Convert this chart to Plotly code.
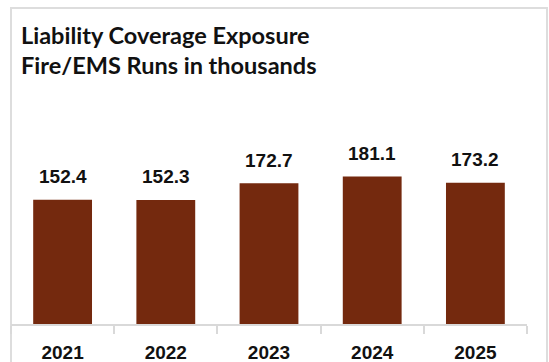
import plotly.graph_objects as go

years = ["2021", "2022", "2023", "2024", "2025"]
runs = [152.4, 152.3, 172.7, 181.1, 173.2]
labels = ["152.4", "152.3", "172.7", "181.1", "173.2"]

W, H = 549, 362
L, R, T, B = 11, 22, 161, 38
pw = W - L - R
ph = H - T - B

def px_x(x):
    return (x - L) / pw

def px_y(y):
    return (H - B - y) / ph

fig = go.Figure(go.Bar(
    x=years, y=runs,
    marker=dict(color="#74290E", line=dict(width=0)),
))

for i, (v, lab) in enumerate(zip(runs, labels)):
    fig.add_annotation(x=i, y=v, text="<b>%s</b>" % lab, showarrow=False,
                       xanchor="center", yanchor="middle", yshift=23,
                       font=dict(family="Liberation Sans", size=19, color="#111111"))

fig.update_layout(
    width=W, height=H,
    margin=dict(l=L, r=R, t=T, b=B),
    paper_bgcolor="white", plot_bgcolor="white",
    bargap=0.43,
    showlegend=False,
    xaxis=dict(
        type="category", range=[-0.5, 4.5], automargin=False,
        showline=True, linecolor="#D9D9D9", linewidth=2,
        ticks="outside", tickson="boundaries", ticklen=8, tickcolor="#D9D9D9", tickwidth=2,
        tickfont=dict(family="Liberation Sans", size=19, color="#111111"),
        ticklabelstandoff=10,
        showgrid=False, zeroline=False,
        tickvals=years, ticktext=["<b>%s</b>" % y for y in years],
    ),
    yaxis=dict(range=[0, 200], visible=False),
    font=dict(family="Liberation Sans"),
)

# chart frame
fig.add_shape(type="rect", xref="paper", yref="paper",
              x0=px_x(11), x1=px_x(547), y0=px_y(8), y1=px_y(400),
              line=dict(color="#DDDDDD", width=2), fillcolor="rgba(0,0,0,0)", layer="below")

# title
fig.add_annotation(xref="paper", yref="paper", x=px_x(19), y=px_y(35),
                   text="<b>Liability Coverage Exposure</b>", showarrow=False,
                   xanchor="left", yanchor="middle",
                   font=dict(family="Lato", size=23.5, color="#111111"))
fig.add_annotation(xref="paper", yref="paper", x=px_x(19), y=px_y(65),
                   text="<b>Fire/EMS Runs in thousands</b>", showarrow=False,
                   xanchor="left", yanchor="middle",
                   font=dict(family="Lato", size=23.5, color="#111111"))

fig.write_html("out.html")
